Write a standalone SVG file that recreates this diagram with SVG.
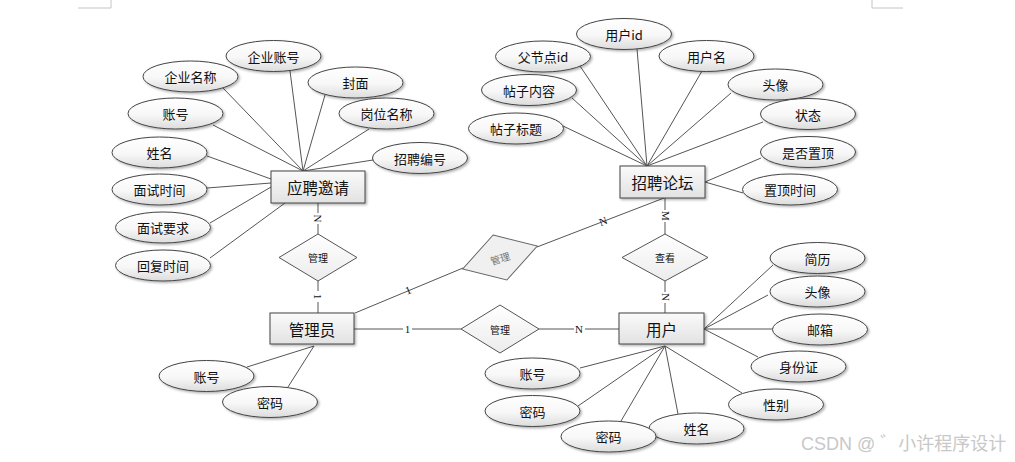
<svg xmlns="http://www.w3.org/2000/svg" width="1015" height="462" viewBox="0 0 1015 462">
<defs>
<linearGradient id="ge" x1="0" y1="0" x2="0" y2="1"><stop offset="0" stop-color="#ffffff"/><stop offset="0.55" stop-color="#f7f7f7"/><stop offset="1" stop-color="#dcdcdc"/></linearGradient>
<linearGradient id="gr" x1="0" y1="0" x2="0" y2="1"><stop offset="0" stop-color="#fafafa"/><stop offset="1" stop-color="#e2e2e2"/></linearGradient>
<linearGradient id="gd" x1="0" y1="0" x2="0" y2="1"><stop offset="0" stop-color="#ffffff"/><stop offset="1" stop-color="#ececec"/></linearGradient>
<filter id="sh" x="-10%" y="-10%" width="130%" height="140%"><feDropShadow dx="1.5" dy="1.5" stdDeviation="1" flood-color="#000" flood-opacity="0.3"/></filter>
</defs>
<style>
.e{fill:url(#ge);stroke:#444;stroke-width:1;filter:url(#sh)}
.r{fill:url(#gr);stroke:#444;stroke-width:1;filter:url(#sh)}
.d{fill:url(#gd);stroke:#555;stroke-width:1}
.t{font-family:"Noto Sans CJK SC","Liberation Sans",sans-serif;font-size:13px;fill:#111;text-anchor:middle;dominant-baseline:central}
.rt{font-family:"Noto Sans CJK SC","Liberation Sans",sans-serif;font-size:15.5px;fill:#111;text-anchor:middle;dominant-baseline:central}
.dt{font-family:"Noto Sans CJK SC","Liberation Sans",sans-serif;font-size:10px;fill:#111;text-anchor:middle;dominant-baseline:central}
.l{font-family:"Liberation Serif",serif;font-size:11px;fill:#111;text-anchor:middle;dominant-baseline:central}
.c line{stroke:#555;stroke-width:1}
.m{stroke:#c4c4c4;stroke-width:1;fill:none}
</style>
<rect width="1015" height="462" fill="#fff"/>
<path class="m" d="M78 8H111V0M872 0V8H903"/>
<g class="c" id="connectors">
<line x1="303" y1="171" x2="223" y2="88"/>
<line x1="303" y1="171" x2="290" y2="71"/>
<line x1="303" y1="171" x2="325" y2="95"/>
<line x1="303" y1="171" x2="369" y2="129"/>
<line x1="303" y1="171" x2="213" y2="125"/>
<line x1="303" y1="171" x2="373" y2="160"/>
<line x1="271" y1="179" x2="207" y2="156"/>
<line x1="271" y1="183" x2="207" y2="188"/>
<line x1="271" y1="187" x2="210" y2="223"/>
<line x1="285" y1="203" x2="210" y2="258"/>
<line x1="318" y1="203" x2="318" y2="234"/>
<line x1="318" y1="281" x2="318" y2="313"/>
<line x1="314" y1="346" x2="247" y2="367"/>
<line x1="314" y1="346" x2="288" y2="387"/>
<line x1="354" y1="329" x2="461" y2="329"/>
<line x1="539" y1="329" x2="619" y2="329"/>
<line x1="355" y1="313" x2="463" y2="268"/>
<line x1="537" y1="247" x2="664" y2="198"/>
<line x1="647" y1="166" x2="563" y2="126"/>
<line x1="647" y1="166" x2="572" y2="98"/>
<line x1="647" y1="166" x2="580" y2="66"/>
<line x1="647" y1="166" x2="637" y2="49"/>
<line x1="647" y1="166" x2="702" y2="71"/>
<line x1="647" y1="166" x2="731" y2="93"/>
<line x1="647" y1="166" x2="763" y2="122"/>
<line x1="705" y1="182" x2="761" y2="158"/>
<line x1="705" y1="182" x2="743" y2="193"/>
<line x1="665" y1="198" x2="665" y2="234"/>
<line x1="665" y1="281" x2="665" y2="313"/>
<line x1="704" y1="329" x2="773" y2="265"/>
<line x1="704" y1="329" x2="768" y2="295"/>
<line x1="704" y1="329" x2="773" y2="329"/>
<line x1="704" y1="329" x2="758" y2="357"/>
<line x1="665" y1="346" x2="580" y2="368"/>
<line x1="665" y1="346" x2="578" y2="406"/>
<line x1="665" y1="346" x2="621" y2="421"/>
<line x1="665" y1="346" x2="678" y2="414"/>
<line x1="665" y1="346" x2="742" y2="393"/>
<rect x="313" y="213" width="10" height="11" fill="#fff"/>
<text class="l" transform="translate(318 218.5) rotate(90)">N</text>
<rect x="313" y="291" width="10" height="11" fill="#fff"/>
<text class="l" transform="translate(318 296.5) rotate(90)">1</text>
<rect x="403" y="323" width="9" height="12" fill="#fff"/>
<text class="l" x="407.5" y="329">1</text>
<rect x="574" y="323" width="11" height="12" fill="#fff"/>
<text class="l" x="579" y="329">N</text>
<text class="l" transform="translate(408 290) rotate(-22)">1</text>
<text class="l" transform="translate(603 221) rotate(-21)">N</text>
<rect x="660" y="210" width="11" height="12" fill="#fff"/>
<text class="l" transform="translate(666 216) rotate(90)">M</text>
<rect x="660" y="292" width="11" height="11" fill="#fff"/>
<text class="l" transform="translate(665.5 297) rotate(90)">N</text>
</g>
<g id="n-yingpin"><rect class="r" x="271" y="171" width="94" height="32"/><text class="rt" x="318" y="187">应聘邀请</text></g>
<g id="a-qiyezhanghao"><ellipse class="e" cx="273.5" cy="56" rx="47.5" ry="15.5"/><text class="t" x="273.5" y="56">企业账号</text></g>
<g id="a-qiyemingcheng"><ellipse class="e" cx="190.5" cy="76.5" rx="47.5" ry="15.5"/><text class="t" x="190.5" y="76.5">企业名称</text></g>
<g id="a-fengmian"><ellipse class="e" cx="355.5" cy="82.5" rx="47.5" ry="15.5"/><text class="t" x="355.5" y="82.5">封面</text></g>
<g id="a-gangwei"><ellipse class="e" cx="386.5" cy="113.5" rx="47.5" ry="15.5"/><text class="t" x="386.5" y="113.5">岗位名称</text></g>
<g id="a-zhanghao1"><ellipse class="e" cx="175.5" cy="113.5" rx="47.5" ry="15.5"/><text class="t" x="175.5" y="113.5">账号</text></g>
<g id="a-xingming1"><ellipse class="e" cx="159.5" cy="152.5" rx="47.5" ry="15.5"/><text class="t" x="159.5" y="152.5">姓名</text></g>
<g id="a-zhaopinbianhao"><ellipse class="e" cx="420" cy="158" rx="47.5" ry="15.5"/><text class="t" x="420" y="158">招聘编号</text></g>
<g id="a-mianshishijian"><ellipse class="e" cx="159.5" cy="189.5" rx="47.5" ry="15.5"/><text class="t" x="159.5" y="189.5">面试时间</text></g>
<g id="a-mianshiyaoqiu"><ellipse class="e" cx="163" cy="227.5" rx="47.5" ry="15.5"/><text class="t" x="163" y="227.5">面试要求</text></g>
<g id="a-huifushijian"><ellipse class="e" cx="163" cy="265.5" rx="47.5" ry="15.5"/><text class="t" x="163" y="265.5">回复时间</text></g>
<g id="r-guanli1"><polygon class="d" points="318,234 357,257.5 318,281 279,257.5"/><text class="dt" x="318" y="257.5">管理</text></g>
<g id="n-admin"><rect class="r" x="270" y="313" width="84" height="31"/><text class="rt" x="312" y="328.5">管理员</text></g>
<g id="a-admin-zhanghao"><ellipse class="e" cx="206.5" cy="376" rx="47.5" ry="15.5"/><text class="t" x="206.5" y="376">账号</text></g>
<g id="a-admin-mima"><ellipse class="e" cx="270" cy="402" rx="47.5" ry="15.5"/><text class="t" x="270" y="402">密码</text></g>
<g id="r-guanli2"><polygon class="d" transform="translate(500 257.5) rotate(-17)" points="0,-23.5 39,0 0,23.5 -39,0" style="fill:#f0f0f0;stroke:#666"/><text class="dt" transform="translate(500 258) rotate(-17)" style="fill:#777">管理</text></g>
<g id="r-guanli3"><polygon class="d" points="500,305 539,329 500,353 461,329"/><text class="dt" x="500" y="329">管理</text></g>
<g id="n-forum"><rect class="r" x="620" y="166" width="85" height="32"/><text class="rt" x="662.5" y="182">招聘论坛</text></g>
<g id="a-yonghuid"><ellipse class="e" cx="624" cy="34" rx="47.5" ry="15.5"/><text class="t" x="624" y="34">用户id</text></g>
<g id="a-fujiedian"><ellipse class="e" cx="543" cy="56.5" rx="47.5" ry="15.5"/><text class="t" x="543" y="56.5">父节点id</text></g>
<g id="a-yonghuming"><ellipse class="e" cx="706.5" cy="56" rx="47.5" ry="15.5"/><text class="t" x="706.5" y="56">用户名</text></g>
<g id="a-tieziinner"><ellipse class="e" cx="529" cy="90" rx="47.5" ry="15.5"/><text class="t" x="529" y="90">帖子内容</text></g>
<g id="a-touxiang1"><ellipse class="e" cx="775.5" cy="84.5" rx="47.5" ry="15.5"/><text class="t" x="775.5" y="84.5">头像</text></g>
<g id="a-tiezibiaoti"><ellipse class="e" cx="516" cy="128.5" rx="47.5" ry="15.5"/><text class="t" x="516" y="128.5">帖子标题</text></g>
<g id="a-zhuangtai"><ellipse class="e" cx="808" cy="114" rx="47.5" ry="15.5"/><text class="t" x="808" y="114">状态</text></g>
<g id="a-shifouzhiding"><ellipse class="e" cx="808" cy="152" rx="47.5" ry="15.5"/><text class="t" x="808" y="152">是否置顶</text></g>
<g id="a-zhidingshijian"><ellipse class="e" cx="790" cy="189.5" rx="47.5" ry="15.5"/><text class="t" x="790" y="189.5">置顶时间</text></g>
<g id="r-chakan"><polygon class="d" points="665,234 708,257.5 665,281 622,257.5"/><text class="dt" x="665" y="257.5">查看</text></g>
<g id="n-user"><rect class="r" x="619" y="313" width="85" height="31"/><text class="rt" x="661.5" y="328.5">用户</text></g>
<g id="a-jianli"><ellipse class="e" cx="817.5" cy="258" rx="47.5" ry="15.5"/><text class="t" x="817.5" y="258">简历</text></g>
<g id="a-touxiang2"><ellipse class="e" cx="817.5" cy="291.5" rx="47.5" ry="15.5"/><text class="t" x="817.5" y="291.5">头像</text></g>
<g id="a-youxiang"><ellipse class="e" cx="820" cy="329.5" rx="47.5" ry="15.5"/><text class="t" x="820" y="329.5">邮箱</text></g>
<g id="a-shenfenzheng"><ellipse class="e" cx="798.5" cy="366.5" rx="47.5" ry="15.5"/><text class="t" x="798.5" y="366.5">身份证</text></g>
<g id="a-xingbie"><ellipse class="e" cx="776" cy="404.5" rx="47.5" ry="15.5"/><text class="t" x="776" y="404.5">性别</text></g>
<g id="a-user-zhanghao"><ellipse class="e" cx="532.5" cy="373.5" rx="47.5" ry="15.5"/><text class="t" x="532.5" y="373.5">账号</text></g>
<g id="a-user-mima1"><ellipse class="e" cx="532.5" cy="411" rx="47.5" ry="15.5"/><text class="t" x="532.5" y="411">密码</text></g>
<g id="a-user-xingming"><ellipse class="e" cx="696.5" cy="428.5" rx="47.5" ry="15.5"/><text class="t" x="696.5" y="428.5">姓名</text></g>
<g id="a-user-mima2"><ellipse class="e" cx="608.5" cy="436.5" rx="47.5" ry="15.5"/><text class="t" x="608.5" y="436.5">密码</text></g>
<text x="801" y="450" style="font-family:'Liberation Sans','Noto Sans CJK SC',sans-serif;font-size:18px;fill:#c8c8c8">CSDN @ ゛小许程序设计</text>
</svg>
